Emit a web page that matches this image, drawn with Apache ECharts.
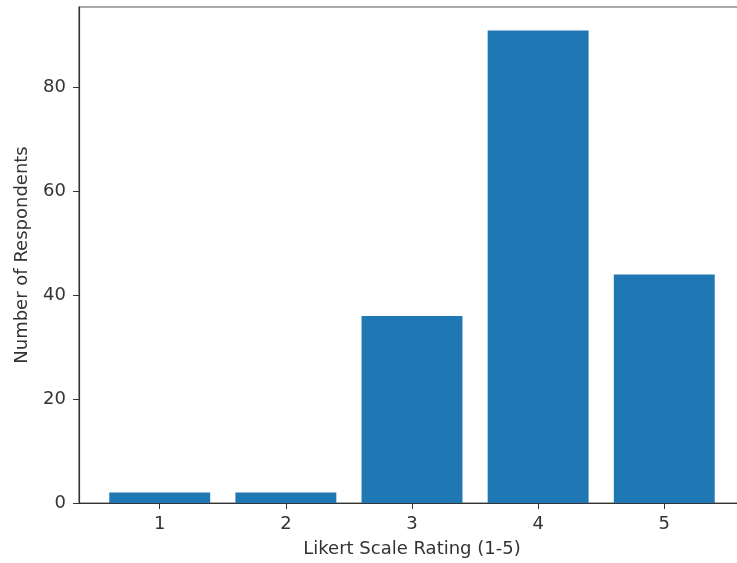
<!DOCTYPE html>
<html><head><meta charset="utf-8">
<script src="https://cdn.jsdelivr.net/npm/echarts@6/dist/echarts.min.js"></script>
<style>html,body{margin:0;padding:0;background:#fff}#c{width:737px;height:563px}</style>
</head><body><div id="c"></div>
<script>
const ratings = [1, 2, 3, 4, 5];
const respondents = [2, 2, 36, 91, 44];
const yTicks = [0, 20, 40, 60, 80];

const chart = echarts.init(document.getElementById('c'), null, {renderer: 'canvas'});
const font = 'DejaVu Sans';
const axisCol = '#333';
const txtCol = '#333';
chart.setOption({
  animation: false,
  grid: {left: 79, top: 7, width: 666, height: 496, containLabel: false, outerBoundsMode: 'none',
    show: true, borderColor: '#555', borderWidth: 1.2, backgroundColor: 'transparent'},
  xAxis: [{
    type: 'value', min: 0.36, max: 5.64, position: 'bottom',
    name: 'Likert Scale Rating (1-5)', nameLocation: 'middle', nameGap: 37,
    nameTextStyle: {fontFamily: font, fontSize: 18, color: txtCol},
    axisLine: {show: true, onZero: false, lineStyle: {color: axisCol, width: 1.2}},
    axisTick: {show: true, length: 6, lineStyle: {color: axisCol}, customValues: ratings},
    axisLabel: {fontFamily: font, fontSize: 18, color: txtCol, margin: 12, customValues: ratings},
    splitLine: {show: false}
  }],
  yAxis: [{
    type: 'value', min: 0, max: 95.55, position: 'left',
    name: 'Number of Respondents', nameLocation: 'middle', nameGap: 48,
    nameTextStyle: {fontFamily: font, fontSize: 18, color: txtCol},
    axisLine: {show: true, lineStyle: {color: axisCol, width: 1.2}},
    axisTick: {show: true, length: 6, lineStyle: {color: axisCol}, customValues: yTicks},
    axisLabel: {fontFamily: font, fontSize: 18, color: txtCol, margin: 13, customValues: yTicks},
    splitLine: {show: false}
  }],
  series: [{
    type: 'bar',
    data: ratings.map((r, i) => [r, respondents[i]]),
    barWidth: '80%',
    itemStyle: {color: '#1f77b4'}
  }]
});
</script></body></html>
